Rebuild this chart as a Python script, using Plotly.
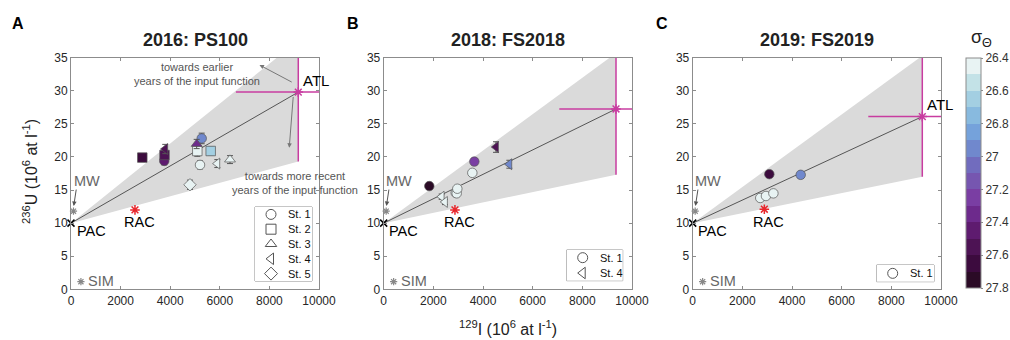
import plotly.graph_objects as go

FONT = "Liberation Sans, Arial, sans-serif"

# ---------------- data ----------------
titles = ["2016: PS100", "2018: FS2018", "2019: FS2019"]
panel_letters = ["A", "B", "C"]

# Panel A (2016)
a_x = [2875, 3760, 3770, 3800, 5270, 5067, 5093, 5633, 5202, 5900, 6411, 4798]
a_y = [19.9, 19.4, 20.3, 21.2, 22.8, 21.96, 20.9, 20.9, 18.8, 19.0, 19.6, 15.8]
a_yerr = [0.6, 0.6, 0.6, 0.7, 0.8, 0.7, 0.8, 0.6, 0.6, 0.6, 0.6, 0.7]
a_sigma = [27.65, 27.45, 27.55, 27.55, 26.95, 27.35, 26.45, 26.65, 26.45, 26.45, 26.45, 26.45]
a_station = [2, 1, 2, 4, 1, 3, 2, 2, 1, 4, 3, 5]

# Panel B (2018)
b_x = [1837, 2336, 2469, 2900, 2940, 2965, 3569, 3650, 4523, 5060]
b_y = [15.6, 14.0, 13.2, 14.6, 14.5, 15.2, 17.6, 19.3, 21.5, 18.9]
b_yerr = [0.4, 0.4, 0.4, 0.4, 0.4, 0.4, 0.4, 0.5, 0.8, 0.6]
b_sigma = [27.75, 26.45, 26.45, 26.45, 26.45, 26.45, 26.45, 27.25, 27.55, 26.95]
b_station = [1, 4, 4, 1, 1, 1, 1, 1, 4, 4]

# Panel C (2019)
c_x = [3086, 4349, 2720, 2950, 3250]
c_y = [17.4, 17.3, 13.8, 14.1, 14.5]
c_yerr = [0.3, 0.3, 0.3, 0.3, 0.3]
c_sigma = [27.65, 26.95, 26.45, 26.45, 26.45]
c_station = [1, 1, 1, 1, 1]

# End members
pac_x, pac_y = 0, 10
mw_x, mw_y = 100, 11.8
sim_x, sim_y = 400, 1.15
rac_x = [2580, 2870, 2885]
rac_y = [12.0, 12.0, 12.1]
atl_x = [9165, 9356, 9247]
atl_y = [29.8, 27.25, 26.1]
atl_xerr = [2515, 2284, 2175]
atl_yerr = [10.5, 9.95, 9.1]
wedge_upper = [37.6, 35.7, 35.3]   # 236U at ATL x on the upper edge of the grey wedge
wedge_lower = [19.3, 17.3, 17.0]   # 236U at ATL x on the lower edge

stations_per_panel = [[1, 2, 3, 4, 5], [1, 4], [1]]
station_symbols = {1: "circle", 2: "square", 3: "triangle-up", 4: "triangle-left", 5: "diamond"}

sigma_ticks = [26.4, 26.6, 26.8, 27.0, 27.2, 27.4, 27.6, 27.8]
sigma_tick_text = ["26.4", "26.6", "26.8", "27", "27.2", "27.4", "27.6", "27.8"]
# discrete band colours, from 27.8 (bottom) to 26.4 (top)
band_colors = ["#2b0b26", "#3c0b3e", "#4d1354", "#5e1b6f", "#6d2a8c", "#7a3ea3", "#7656b0",
               "#716cbe", "#7088cd", "#75a2db", "#88badf", "#a3cfe2", "#c3e2e7", "#e8f3f3"]

panels = [
    (a_x, a_y, a_yerr, a_sigma, a_station),
    (b_x, b_y, b_yerr, b_sigma, b_station),
    (c_x, c_y, c_yerr, c_sigma, c_station),
]

# ---------------- layout geometry (pixels) ----------------
W, H = 1010, 340
def fx(px):
    return px / W
def fy(py):
    return 1 - py / H

x_domains = [(fx(71), fx(319)), (fx(383.7), fx(632)), (fx(692.7), fx(941))]
y_domain = (fy(289.3), fy(57.7))
# legend boxes: left, right, top, bottom (px)
legend_boxes = [(255, 312, 207, 281), (566.7, 622.7, 250, 280.7), (876.7, 934, 265, 281.7)]

nb = len(band_colors)
colorscale = []
for i, c in enumerate(band_colors):
    colorscale.append([i / nb, c])
    colorscale.append([(i + 1) / nb, c])

fig = go.Figure()
MAG = "#c83ca0"
GRAY_TXT = "#666666"
RED = "#e8262b"

for p in range(3):
    xa = "x" if p == 0 else f"x{p+1}"
    ya = "y" if p == 0 else f"y{p+1}"
    px, py, pyerr, psig, pst = panels[p]

    # grey wedge
    fig.add_trace(go.Scatter(
        x=[pac_x, atl_x[p], atl_x[p], pac_x], y=[pac_y, wedge_upper[p], wedge_lower[p], pac_y],
        mode="lines", fill="toself", fillcolor="#dadada", line=dict(width=0),
        hoverinfo="skip", showlegend=False, xaxis=xa, yaxis=ya))
    # mixing line
    fig.add_trace(go.Scatter(
        x=[pac_x, atl_x[p]], y=[pac_y, atl_y[p]], mode="lines",
        line=dict(color="#555555", width=1), showlegend=False, xaxis=xa, yaxis=ya))
    # ATL with error bars
    fig.add_trace(go.Scatter(
        x=[atl_x[p]], y=[atl_y[p]], mode="markers",
        marker=dict(symbol="asterisk-open", size=8, color=MAG, line=dict(color=MAG, width=1.5)),
        error_x=dict(type="data", array=[atl_xerr[p]], color=MAG, thickness=1.5, width=0),
        error_y=dict(type="data", array=[atl_yerr[p]], color=MAG, thickness=1.5, width=0),
        showlegend=False, xaxis=xa, yaxis=ya))

    # data by station
    for st in stations_per_panel[p]:
        idx = [i for i in range(len(px)) if pst[i] == st]
        fig.add_trace(go.Scatter(
            x=[px[i] for i in idx], y=[py[i] for i in idx], mode="markers",
            marker=dict(symbol=station_symbols[st], size=9.5,
                        color=[-psig[i] for i in idx], coloraxis="coloraxis",
                        line=dict(color="#555555", width=0.7)),
            error_y=dict(type="data", array=[pyerr[i] for i in idx], color="#555555",
                         thickness=1, width=3),
            showlegend=False, xaxis=xa, yaxis=ya))

    # end members
    fig.add_trace(go.Scatter(
        x=[pac_x], y=[pac_y], mode="markers", cliponaxis=False,
        marker=dict(symbol="x-thin-open", size=7, color="black", line=dict(color="black", width=1.5)),
        showlegend=False, xaxis=xa, yaxis=ya))
    fig.add_trace(go.Scatter(
        x=[mw_x, sim_x], y=[mw_y, sim_y], mode="markers", cliponaxis=False,
        marker=dict(symbol="asterisk-open", size=6, color="#888888",
                    line=dict(color="#888888", width=1.2)),
        showlegend=False, xaxis=xa, yaxis=ya))
    fig.add_trace(go.Scatter(
        x=[rac_x[p]], y=[rac_y[p]], mode="markers",
        marker=dict(symbol="asterisk-open", size=8, color=RED, line=dict(color=RED, width=1.5)),
        showlegend=False, xaxis=xa, yaxis=ya))

    # legend (drawn on its own hidden axes, entries indexed from the top)
    n = len(stations_per_panel[p])
    lxa = f"x{p+4}"
    lya = f"y{p+4}"
    fig.add_trace(go.Scatter(
        x=[16] * n, y=list(range(n)), mode="markers", cliponaxis=False,
        marker=dict(symbol=[station_symbols[s] + "-open" for s in stations_per_panel[p]],
                    size=10, color="#555555", line=dict(width=1)),
        showlegend=False, hoverinfo="skip", xaxis=lxa, yaxis=lya))

# ---------------- axes ----------------
axis_common = dict(showgrid=False, zeroline=False, showline=True, linecolor="#8c8c8c",
                   linewidth=1, mirror="ticks", ticks="inside", ticklen=3, tickcolor="#8c8c8c",
                   tickfont=dict(family=FONT, size=12, color="#262626"))
layout_axes = {}
shapes = []
for p in range(3):
    xk = "xaxis" if p == 0 else f"xaxis{p+1}"
    yk = "yaxis" if p == 0 else f"yaxis{p+1}"
    ya = "y" if p == 0 else f"y{p+1}"
    xa = "x" if p == 0 else f"x{p+1}"
    layout_axes[xk] = dict(axis_common, domain=list(x_domains[p]), range=[0, 10000],
                           tickvals=[0, 2000, 4000, 6000, 8000, 10000],
                           ticktext=["0", "2000", "4000", "6000", "8000", "10000"], anchor=ya)
    layout_axes[yk] = dict(axis_common, domain=list(y_domain), range=[0, 35],
                           tickvals=[0, 5, 10, 15, 20, 25, 30, 35], anchor=xa)
    # legend axes
    l, r, t, b = legend_boxes[p]
    n = len(stations_per_panel[p])
    layout_axes[f"xaxis{p+4}"] = dict(domain=[fx(l), fx(r)], range=[0, r - l], visible=False,
                                      anchor=f"y{p+4}", fixedrange=True)
    layout_axes[f"yaxis{p+4}"] = dict(domain=[fy(b), fy(t)], range=[n - 0.5, -0.5], visible=False,
                                      anchor=f"x{p+4}", fixedrange=True)
    shapes.append(dict(type="rect", xref="paper", yref="paper", x0=fx(l), x1=fx(r),
                       y0=fy(b), y1=fy(t), line=dict(color="#8c8c8c", width=1),
                       fillcolor="white", layer="below"))

fig.update_layout(**layout_axes)

# ---------------- annotations ----------------
ann = []
def A(**kw):
    d = dict(showarrow=False, font=dict(family=FONT, size=15, color="black"),
             xanchor="center", yanchor="middle")
    if "font" in kw:
        d["font"] = dict(d["font"], **kw.pop("font"))
    d.update(kw)
    ann.append(d)

letter_px = [18, 353, 662]
for p in range(3):
    xr = "x" if p == 0 else f"x{p+1}"
    yr = "y" if p == 0 else f"y{p+1}"
    cx = (x_domains[p][0] + x_domains[p][1]) / 2
    A(text=f"<b>{titles[p]}</b>", xref="paper", yref="paper", x=cx, y=fy(40),
      font=dict(size=18, color="#222222"))
    A(text=f"<b>{panel_letters[p]}</b>", xref="paper", yref="paper", x=fx(letter_px[p]),
      y=fy(24), font=dict(size=16))
    # labels
    A(text="ATL", xref=xr, yref=yr, x=atl_x[p] + 700, y=atl_y[p] + 1.8)
    A(text="PAC", xref=xr, yref=yr, x=150, y=8.8, xanchor="left", font=dict(size=14.5))
    A(text="RAC", xref=xr, yref=yr, x=rac_x[p] + 180, y=10.2, font=dict(size=14.5))
    A(text="MW", xref=xr, yref=yr, x=20, y=16.3, xanchor="left",
      font=dict(size=14.5, color=GRAY_TXT))
    A(text="SIM", xref=xr, yref=yr, x=620, y=1.2, xanchor="left",
      font=dict(size=14.5, color=GRAY_TXT))
    # MW arrow
    ann.append(dict(text="", xref=xr, yref=yr, axref=xr, ayref=yr, x=110, y=12.6,
                    ax=220, ay=15.3, showarrow=True, arrowhead=2, arrowsize=0.9,
                    arrowwidth=1, arrowcolor="#555555", standoff=0))
    # legend texts
    for i, s in enumerate(stations_per_panel[p]):
        A(text=f"St. {s}", xref=f"x{p+4}", yref=f"y{p+4}", x=31, y=i, xanchor="left",
          font=dict(size=11, color="#111111"))

# Panel A notes
A(text="towards earlier<br>years of the input function", xref="x", yref="y", x=5070, y=32.6,
  font=dict(size=11, color="#555555"))
A(text="towards more recent<br>years of the input function", xref="x", yref="y", x=9030, y=16.0,
  font=dict(size=11, color="#555555"))
ann.append(dict(text="", xref="x", yref="y", axref="x", ayref="y", x=7600, y=33.9,
                ax=8960, ay=31.2, showarrow=True, arrowhead=2, arrowsize=0.9,
                arrowwidth=1, arrowcolor="#777777", standoff=0))
ann.append(dict(text="", xref="x", yref="y", axref="x", ayref="y", x=8800, y=21.4,
                ax=8965, ay=29.3, showarrow=True, arrowhead=2, arrowsize=0.9,
                arrowwidth=1, arrowcolor="#777777", standoff=0))

# axis titles
A(text="<sup>236</sup>U (10<sup>6</sup> at l<sup>-1</sup>)", xref="paper", yref="paper",
  x=fx(30), y=fy(172), textangle=-90, font=dict(size=16, color="#222222"))
A(text="<sup>129</sup>I (10<sup>6</sup> at l<sup>-1</sup>)", xref="paper", yref="paper",
  x=fx(508), y=fy(328), font=dict(size=16, color="#222222"))
# colourbar title
A(text="σ<sub>Θ</sub>", xref="paper", yref="paper", x=fx(981), y=fy(38),
  font=dict(size=18, color="#222222"))

fig.update_layout(
    width=W, height=H, margin=dict(l=0, r=0, t=0, b=0, autoexpand=False),
    paper_bgcolor="white", plot_bgcolor="white",
    font=dict(family=FONT, size=12),
    showlegend=False,
    annotations=ann,
    shapes=shapes,
    coloraxis=dict(
        colorscale=colorscale, cmin=-27.8, cmax=-26.4,
        colorbar=dict(x=fx(966), xanchor="left", xpad=0, ypad=0, thickness=15,
                      len=230 / H, y=fy(173), yanchor="middle",
                      outlinecolor="#8c8c8c", outlinewidth=1,
                      tickvals=[-v for v in sigma_ticks], ticktext=sigma_tick_text,
                      ticks="outside", ticklen=2, tickcolor="#8c8c8c",
                      tickfont=dict(family=FONT, size=12, color="#333333")),
    ),
)

fig.write_html("out.html", config={"displayModeBar": False},
               post_script="document.body.style.margin='0px';")
